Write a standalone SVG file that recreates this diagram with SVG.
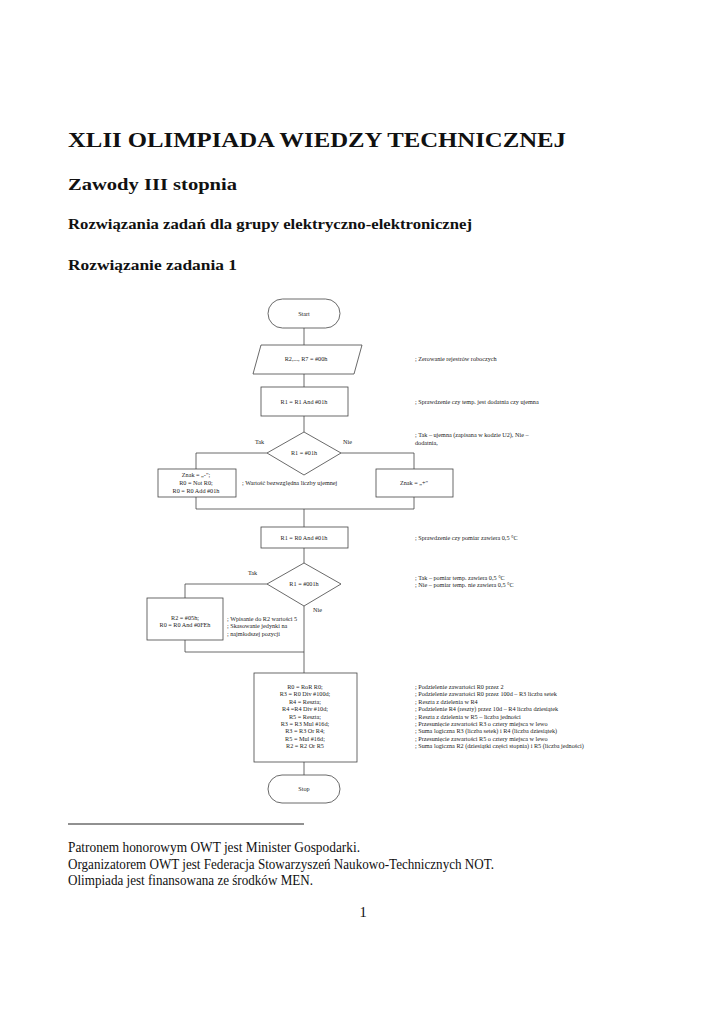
<svg xmlns="http://www.w3.org/2000/svg" width="724" height="1024" viewBox="0 0 724 1024">
<style>
.h{font-family:"Liberation Serif","DejaVu Serif",serif;font-weight:bold;fill:#111}
.b{font-family:"Liberation Serif","DejaVu Serif",serif;fill:#111;font-size:14.5px}
.f{font-family:"Liberation Serif","DejaVu Serif",serif;fill:#222;font-size:6.2px}
.c{text-anchor:middle}
.s{fill:none;stroke:#444;stroke-width:0.8}
.n{fill:#fff;stroke:#444;stroke-width:0.8}
</style>
<rect width="724" height="1024" fill="#fff"/>
<text class="h" x="68" y="147" font-size="21" textLength="498" lengthAdjust="spacingAndGlyphs">XLII OLIMPIADA WIEDZY TECHNICZNEJ</text>
<text class="h" x="68" y="190" font-size="17" textLength="169" lengthAdjust="spacingAndGlyphs">Zawody III stopnia</text>
<text class="h" x="68" y="229" font-size="14.5" textLength="404" lengthAdjust="spacingAndGlyphs">Rozwiązania zadań dla grupy elektryczno-elektronicznej</text>
<text class="h" x="68" y="270" font-size="14.5" textLength="169" lengthAdjust="spacingAndGlyphs">Rozwiązanie zadania 1</text>

<g id="connectors" class="s">
<path d="M304 328V345M304 374V387M304 416V432"/>
<path d="M267 453H196V469M341 453H414V469"/>
<path d="M196 497V509H414V497M304 509V527M304 548V563"/>
<path d="M267 584H185V598M304 606V673M185 640V652H304"/>
<path d="M304 762V775"/>
</g>

<g id="start"><rect class="n" x="268" y="299" width="72" height="29" rx="14.5"/><text class="f c" x="304" y="316">Start</text></g>
<g id="init"><polygon class="n" points="261,345 362,345 354,374 253,374"/><text class="f c" x="306" y="361">R2,..., R7 = #00h</text>
<text class="f" x="415" y="361">; Zerowanie rejestrów roboczych</text></g>
<g id="and1"><rect class="n" x="261" y="387" width="87" height="29"/><text class="f c" x="304" y="404">R1 = R1 And #01h</text>
<text class="f" x="415" y="404">; Sprawdzenie czy temp. jest dodatnia czy ujemna</text></g>
<g id="dec1"><polygon class="n" points="304,432 341,453 304,475 267,453"/><text class="f c" x="304" y="455">R1 = #01h</text>
<text class="f" x="255" y="444">Tak</text><text class="f" x="343" y="444">Nie</text>
<text class="f" x="415" y="437">; Tak – ujemna (zapisana w kodzie U2), Nie –</text>
<text class="f" x="415" y="445">dodatnia,</text></g>
<g id="neg"><rect class="n" x="158" y="469" width="78" height="28"/>
<text class="f c" x="196" y="477">Znak = „-";</text><text class="f c" x="196" y="485">R0 = Not R0;</text><text class="f c" x="196" y="493">R0 = R0 Add #01h</text>
<text class="f" x="242" y="485">; Wartość bezwzględna liczby ujemnej</text></g>
<g id="pos"><rect class="n" x="376" y="469" width="77" height="28"/><text class="f c" x="414" y="485">Znak = „+"</text></g>
<g id="and2"><rect class="n" x="261" y="527" width="87" height="21"/><text class="f c" x="304" y="540">R1 = R0 And #01h</text>
<text class="f" x="415" y="540">; Sprawdzenie czy pomiar zawiera 0,5 °C</text></g>
<g id="dec2"><polygon class="n" points="304,563 341,584 304,606 267,584"/><text class="f c" x="304" y="586">R1 = #001h</text>
<text class="f" x="248" y="575">Tak</text><text class="f" x="313" y="612">Nie</text>
<text class="f" x="415" y="580">; Tak – pomiar temp. zawiera 0,5 °C</text>
<text class="f" x="415" y="587">; Nie – pomiar temp. nie zawiera 0,5 °C</text></g>
<g id="half"><rect class="n" x="147" y="598" width="76" height="42"/>
<text class="f c" x="185" y="620">R2 = #05h;</text><text class="f c" x="185" y="627">R0 = R0 And #0FEh</text>
<text class="f" x="227" y="621">; Wpisanie do R2 wartości 5</text>
<text class="f" x="227" y="628">; Skasowanie jedynki na</text>
<text class="f" x="227" y="636">; najmłodszej pozycji</text></g>
<g id="bcd"><rect class="n" x="254" y="673" width="103" height="89"/>
<text class="f c" x="305" y="689">R0 = RoR R0;</text>
<text class="f c" x="305" y="696">R3 = R0 Div #100d;</text>
<text class="f c" x="305" y="704">R4 = Reszta;</text>
<text class="f c" x="305" y="711">R4 =R4 Div #10d;</text>
<text class="f c" x="305" y="719">R5 = Reszta;</text>
<text class="f c" x="305" y="726">R3 = R3 Mul #16d;</text>
<text class="f c" x="305" y="733">R3 = R3 Or R4;</text>
<text class="f c" x="305" y="741">R5 = Mul #16d;</text>
<text class="f c" x="305" y="748">R2 = R2 Or R5</text>
<text class="f" x="415" y="689">; Podzielenie zawartości R0 przez 2</text>
<text class="f" x="415" y="696">; Podzielenie zawartości R0 przez 100d – R3 liczba setek</text>
<text class="f" x="415" y="704">; Reszta z dzielenia w R4</text>
<text class="f" x="415" y="711">; Podzielenie R4 (reszty) przez 10d – R4 liczba dziesiątek</text>
<text class="f" x="415" y="719">; Reszta z dzielenia w R5 – liczba jedności</text>
<text class="f" x="415" y="726">; Przesunięcie zawartości R3 o cztery miejsca w lewo</text>
<text class="f" x="415" y="733">; Suma logiczna R3 (liczba setek) i R4 (liczba dziesiątek)</text>
<text class="f" x="415" y="741">; Przesunięcie zawartości R5 o cztery miejsca w lewo</text>
<text class="f" x="415" y="748">; Suma logiczna R2 (dziesiątki części stopnia) i R5 (liczba jedności)</text></g>
<g id="stop"><rect class="n" x="268" y="775" width="72" height="28" rx="14"/><text class="f c" x="304" y="791">Stop</text></g>

<line x1="68" y1="824" x2="304" y2="824" stroke="#222" stroke-width="1"/>
<text class="b" x="68" y="852" textLength="292" lengthAdjust="spacingAndGlyphs">Patronem honorowym OWT jest Minister Gospodarki.</text>
<text class="b" x="68" y="869" textLength="426" lengthAdjust="spacingAndGlyphs">Organizatorem OWT jest Federacja Stowarzyszeń Naukowo-Technicznych NOT.</text>
<text class="b" x="68" y="885" textLength="245" lengthAdjust="spacingAndGlyphs">Olimpiada jest finansowana ze środków MEN.</text>
<text class="b c" x="363" y="917">1</text>
</svg>
